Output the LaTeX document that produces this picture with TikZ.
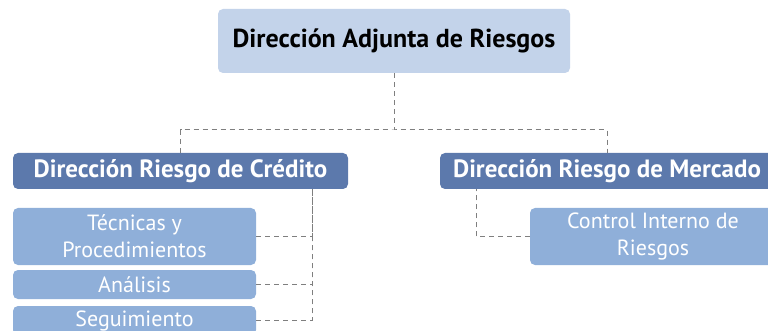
\documentclass[tikz,border=0pt]{standalone}
\usepackage{fontspec}
\setmainfont{PT Sans}
\usepackage{xcolor}
\definecolor{topfill}{HTML}{C3D3EA}
\definecolor{headfill}{HTML}{5C79AC}
\definecolor{subfill}{HTML}{8FAFD9}
\definecolor{linkgray}{HTML}{7F7F7F}
\tikzset{
  box/.style={draw=none, rounded corners=5pt, inner sep=0pt, align=center},
  topbox/.style={box, fill=topfill, minimum width=352pt, minimum height=64pt, font=\bfseries\fontsize{26}{30}\selectfont, text=black},
  headbox/.style={box, fill=headfill, minimum width=335pt, minimum height=36pt, font=\bfseries\fontsize{25}{28}\selectfont, text=white},
  subbox/.style={box, fill=subfill, minimum width=243pt, font=\fontsize{22}{27}\selectfont, text=white},
  link/.style={draw=linkgray, line width=1pt, dash pattern=on 5pt off 4pt}
}
\begin{document}
\begin{tikzpicture}[x=1pt, y=-1pt]
    \useasboundingbox (0, 0) rectangle (768, 331);
    \node[topbox] (adjunta) at (394, 41) {Dirección Adjunta de Riesgos};
    \node[headbox] (credito) at (180.5, 171) {Dirección Riesgo de Crédito};
    \node[headbox, minimum width=334pt] (mercado) at (607, 171) {Dirección Riesgo de Mercado};
    \node[subbox, minimum height=57pt] (tecnicas) at (134.5, 236.5) {Técnicas y\\Procedimientos};
    \node[subbox, minimum height=29pt] (analisis) at (134.5, 284.5) {Análisis};
    \node[subbox, minimum height=29pt] (seguimiento) at (134.5, 320.5) {Seguimiento};
    \node[subbox, minimum width=246pt, minimum height=57pt] (control) at (653, 236.5) {Control Interno de\\Riesgos};
    \coordinate (split) at (394, 130);
    \coordinate (ctrunk) at (312, 189);
    \coordinate (mtrunk) at (476, 189);
    % links
    \path[link] (adjunta) -- (split);
    \path[link] (credito.north) |- (split) -| (mercado.north);
    \path[link] (tecnicas.east) -| (ctrunk);
    \path[link] (analisis.east) -| (ctrunk);
    \path[link] (seguimiento.east) -| (ctrunk);
    \path[link] (control.west) -| (mtrunk);
\end{tikzpicture}
\end{document}
